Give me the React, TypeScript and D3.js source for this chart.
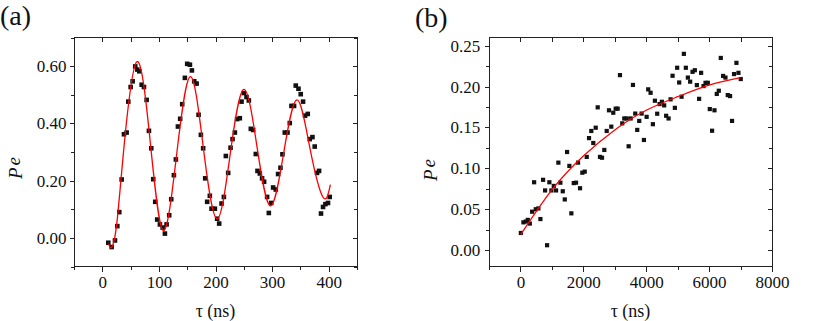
import React, { useEffect, useRef } from 'react';
import * as d3 from 'd3';

// panel (a): Rabi-type oscillation
const tauA = [
  10.6, 16.5, 22.4, 26.5, 30, 34.2, 38.3, 43, 45.9, 50.1,
  53.6, 58.2, 61.8, 65.3, 69.5, 73.6, 78.3, 82.4, 86.5, 90,
  93.5, 97, 101.8, 106.6, 110.6, 113.6, 118.2, 121.8, 126.5, 130,
  133.6, 137.6, 141.2, 145.9, 150, 154.8, 158.3, 162.4, 166.6, 170.1,
  174.2, 178.2, 181.8, 185.3, 190, 193, 198.9, 202.9, 206.5, 210.7,
  214.8, 218.3, 222.4, 226.6, 230.1, 234.2, 238.2, 243, 246, 250,
  254.8, 258.9, 262.4, 266.5, 271.2, 274.2, 278.3, 282.3, 285.9, 291.2,
  294.2, 298.5, 301.8, 306.5, 310.6, 314.8, 318.3, 322.4, 327.2, 331.2,
  334.2, 338.8, 341.8, 346.6, 350.6, 354.7, 358.2, 363, 366.5, 371.3,
  375.3, 379.4, 383, 386.4, 390, 394.2, 398.8, 401.8
];
const peA = [
  -0.017, -0.032, -0.009, 0.041, 0.09, 0.204, 0.362, 0.368, 0.476, 0.527,
  0.547, 0.599, 0.588, 0.582, 0.535, 0.527, 0.482, 0.374, 0.313, 0.205,
  0.126, 0.064, 0.047, 0.036, 0.015, 0.047, 0.079, 0.135, 0.219, 0.274,
  0.389, 0.416, 0.467, 0.559, 0.608, 0.605, 0.585, 0.547, 0.539, 0.430,
  0.360, 0.313, 0.208, 0.126, 0.147, 0.102, 0.102, 0.067, 0.050, 0.12,
  0.143, 0.286, 0.227, 0.315, 0.345, 0.368, 0.415, 0.418, 0.476, 0.506,
  0.492, 0.48, 0.381, 0.377, 0.293, 0.234, 0.225, 0.208, 0.196, 0.143,
  0.087, 0.122, 0.176, 0.169, 0.223, 0.245, 0.292, 0.368, 0.368, 0.401,
  0.461, 0.461, 0.532, 0.521, 0.502, 0.476, 0.427, 0.433, 0.345, 0.352,
  0.319, 0.227, 0.234, 0.085, 0.108, 0.118, 0.122, 0.143
];
// fit curve
const fitTauA = [11, 16.5, 25, 37, 61, 85.5, 108, 131.5, 155.5, 178.5, 202.5, 226, 250, 273.5, 297, 320.5, 344, 367, 390, 403];
const fitPeA = [-0.02, -0.033, 0.04, 0.29, 0.615, 0.32, 0.025, 0.294, 0.563, 0.315, 0.067, 0.293, 0.519, 0.316, 0.112, 0.297, 0.482, 0.312, 0.142, 0.186];

// panel (b): relaxation
const tauB = [
  13, 95, 170, 234, 298, 371, 435, 488, 571, 635,
  720, 784, 847, 920, 984, 1060, 1133, 1206, 1270, 1346,
  1410, 1483, 1556, 1619, 1695, 1768, 1832, 1895, 1968, 2044,
  2108, 2181, 2254, 2317, 2394, 2457, 2530, 2594, 2667, 2743,
  2816, 2889, 2952, 3029, 3092, 3165, 3238, 3302, 3378, 3441,
  3505, 3578, 3651, 3714, 3778, 3854, 3927, 4013, 4063, 4139,
  4212, 4276, 4349, 4425, 4498, 4571, 4634, 4711, 4774, 4838,
  4911, 4984, 5048, 5124, 5197, 5260, 5324, 5397, 5473, 5546,
  5610, 5682, 5746, 5822, 5886, 5959, 6022, 6095, 6171, 6244,
  6308, 6371, 6444, 6520, 6593, 6667, 6730, 6793, 6869, 6933,
  7006
];
const peB = [
  0.021, 0.034, 0.035, 0.037, 0.0325, 0.047, 0.083, 0.050, 0.051, 0.038,
  0.086, 0.073, 0.006, 0.083, 0.073, 0.0785, 0.073, 0.107, 0.0825, 0.072,
  0.062, 0.120, 0.103, 0.045, 0.082, 0.0825, 0.107, 0.0757, 0.0947, 0.096,
  0.114, 0.137, 0.1457, 0.131, 0.1497, 0.1746, 0.114, 0.113, 0.1225, 0.1457,
  0.171, 0.151, 0.168, 0.173, 0.173, 0.214, 0.155, 0.161, 0.161, 0.127,
  0.161, 0.202, 0.167, 0.147, 0.158, 0.167, 0.1347, 0.163, 0.1966, 0.1924,
  0.154, 0.1827, 0.1668, 0.1786, 0.1814, 0.177, 0.1643, 0.161, 0.1844, 0.2132,
  0.174, 0.223, 0.205, 0.1876, 0.240, 0.223, 0.211, 0.206, 0.218, 0.220,
  0.2018, 0.185, 0.2168, 0.2006, 0.2046, 0.2046, 0.1725, 0.146, 0.171, 0.191,
  0.1949, 0.235, 0.213, 0.211, 0.1896, 0.1884, 0.158, 0.2153, 0.229, 0.2168,
  0.2092
];
const fitTauB = [10, 1000, 2000, 3000, 4000, 5000, 6000, 7000];
const fitPeB = [0.019, 0.0736, 0.115, 0.147, 0.171, 0.1876, 0.2018, 0.211];

const xTicksA = [0, 100, 200, 300, 400];
const xMinorA = [-50, 50, 150, 250, 350, 450];
const yTicksA = [0, 0.2, 0.4, 0.6];
const yMinorA = [-0.1, 0.1, 0.3, 0.5, 0.7];
const xTicksB = [0, 2000, 4000, 6000, 8000];
const xMinorB = [-1000, 1000, 3000, 5000, 7000];
const yTicksB = [0, 0.05, 0.1, 0.15, 0.2, 0.25];
const yMinorB = [0.025, 0.075, 0.125, 0.175, 0.225];

const FONT = "'Times New Roman', 'Liberation Serif', Tinos, serif";
const INK = '#222';

function drawPanel(svg, p) {
  const x = d3.scaleLinear().domain(p.xDomain).range([p.left, p.right]);
  const y = d3.scaleLinear().domain(p.yDomain).range([p.bottom, p.top]);
  const g = svg.append('g');

  const style = (sel) => {
    sel.select('.domain').remove();
    sel.selectAll('line').attr('stroke', INK).attr('shape-rendering', 'crispEdges');
    sel.selectAll('text').attr('fill', '#111').style('font-family', FONT).style('font-size', '17px');
    sel.attr('font-family', null).attr('font-size', null);
  };

  const allX = p.xTicks.concat(p.xMinor);

  // bottom + left, outward
  g.append('g').attr('transform', `translate(0,${p.bottom})`)
    .call(d3.axisBottom(x).tickValues(p.xMinor).tickSize(3).tickFormat(() => '')).call(style);
  g.append('g').attr('transform', `translate(0,${p.bottom})`)
    .call(d3.axisBottom(x).tickValues(p.xTicks).tickSize(5).tickPadding(4.7).tickFormat(d3.format('d'))).call(style);
  g.append('g').attr('transform', `translate(${p.left},0)`)
    .call(d3.axisLeft(y).tickValues(p.yMinor).tickSize(3).tickFormat(() => '')).call(style);
  g.append('g').attr('transform', `translate(${p.left},0)`)
    .call(d3.axisLeft(y).tickValues(p.yTicks).tickSize(4.5).tickPadding(p.yPad).tickFormat(d3.format('.2f'))).call(style);

  // top + right mirror, inward
  g.append('g').attr('transform', `translate(0,${p.top})`)
    .call(d3.axisTop(x).tickValues(allX).tickSize(-4).tickFormat(() => '')).call(style);
  g.append('g').attr('transform', `translate(${p.right},0)`)
    .call(d3.axisRight(y).tickValues(p.yMinor).tickSize(-3).tickFormat(() => '')).call(style);
  g.append('g').attr('transform', `translate(${p.right},0)`)
    .call(d3.axisRight(y).tickValues(p.yTicks).tickSize(-4.5).tickFormat(() => '')).call(style);

  g.append('rect')
    .attr('x', p.left).attr('y', p.top)
    .attr('width', p.right - p.left).attr('height', p.bottom - p.top)
    .attr('fill', 'none').attr('stroke', INK).attr('stroke-width', 1)
    .attr('shape-rendering', 'crispEdges');

  const s = p.marker;
  g.append('g').selectAll('rect')
    .data(p.tau.map((t, i) => [t, p.pe[i]]))
    .enter().append('rect')
    .attr('x', d => x(d[0]) - s / 2)
    .attr('y', d => y(d[1]) - s / 2)
    .attr('width', s).attr('height', s)
    .attr('fill', '#111');

  const line = d3.line().x(d => x(d[0])).y(d => y(d[1])).curve(d3.curveNatural);
  g.append('path')
    .datum(p.fitTau.map((t, i) => [t, p.fitPe[i]]))
    .attr('d', line)
    .attr('fill', 'none').attr('stroke', '#ff0000').attr('stroke-width', 1.3);

  // axis titles
  g.append('text')
    .attr('x', (p.left + p.right) / 2).attr('y', 317)
    .attr('text-anchor', 'middle')
    .style('font-family', FONT).style('font-size', '18px').attr('fill', '#111')
    .text('\u03c4 (ns)');

  const yl = g.append('text')
    .attr('transform', `translate(${p.yLabelX},${p.yLabelY}) rotate(-90)`)
    .attr('text-anchor', 'middle')
    .style('font-family', FONT).style('font-size', '19px').style('font-style', 'italic').attr('fill', '#111');
  yl.append('tspan').text('P');
  yl.append('tspan').attr('dx', 2).attr('dy', -2).text('e');

  g.append('text')
    .attr('x', p.tagX).attr('y', p.tagY)
    .style('font-family', FONT).style('font-size', '28px').attr('fill', '#111')
    .text(p.tag);
}

export default function App() {
  const ref = useRef(null);

  useEffect(() => {
    const svg = d3.select(ref.current);
    svg.selectAll('*').remove();

    drawPanel(svg, {
      left: 74, right: 357, top: 37.5, bottom: 266.5,
      xDomain: [-50, 450], yDomain: [-0.1, 0.7],
      xTicks: xTicksA, xMinor: xMinorA, yTicks: yTicksA, yMinor: yMinorA,
      tau: tauA, pe: peA, fitTau: fitTauA, fitPe: fitPeA,
      marker: 4.6, yPad: 3,
      yLabelX: 21.7, yLabelY: 168,
      tag: '(a)', tagX: 0, tagY: 25
    });

    drawPanel(svg, {
      left: 489, right: 772, top: 37.5, bottom: 266.5,
      xDomain: [-1000, 8000], yDomain: [-0.02, 0.26],
      xTicks: xTicksB, xMinor: xMinorB, yTicks: yTicksB, yMinor: yMinorB,
      tau: tauB, pe: peB, fitTau: fitTauB, fitPe: fitPeB,
      marker: 4.2, yPad: 4.3,
      yLabelX: 436.7, yLabelY: 170,
      tag: '(b)', tagX: 415, tagY: 27
    });
  }, []);

  return (
    <svg
      ref={ref}
      xmlns="http://www.w3.org/2000/svg"
      width={830}
      height={321}
      style={{ position: 'absolute', left: 0, top: 0, background: '#fff' }}
    />
  );
}
